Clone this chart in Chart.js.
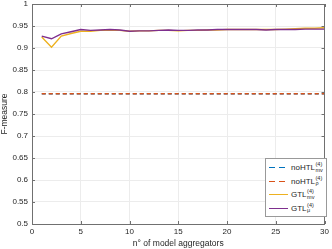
<!DOCTYPE html>
<html>
<head>
<meta charset="utf-8">
<script src="https://cdn.jsdelivr.net/npm/chart.js@4"></script>
<style>
  html, body { margin: 0; padding: 0; background: #fff; }
  #wrap { position: relative; width: 332px; height: 249px; }
  #legend {
    position: absolute; left: 265px; top: 158px; width: 62px; height: 59px;
    border: 1px solid #999; background: #fff; box-sizing: border-box;
    font-family: "Liberation Sans", Arial, sans-serif; font-size: 8px; color: #262626;
    padding: 2px 2px 0 3px;
  }
  .row { display: flex; align-items: center; height: 13.5px; }
  .swatch { width: 19px; height: 1.4px; margin-right: 3px; }
  .lbl { white-space: nowrap; }
  .ss { display: inline-flex; flex-direction: column; vertical-align: middle; font-size: 5.5px; line-height: 5.5px; margin-left: 0.5px; }
</style>
</head>
<body>
<div id="wrap">
  <canvas id="chart" width="332" height="249"></canvas>
  <div id="legend"></div>
</div>
<script>
// datos
const aggregators = [1,2,3,4,5,6,7,8,9,10,11,12,13,14,15,16,17,18,19,20,21,22,23,24,25,26,27,28,29,30];
const noHTLmv  = [0.796,0.796,0.796,0.796,0.796,0.796,0.796,0.796,0.796,0.796,0.796,0.796,0.796,0.796,0.796,0.796,0.796,0.796,0.796,0.796,0.796,0.796,0.796,0.796,0.796,0.796,0.796,0.796,0.796,0.796];
const noHTLrho = [0.796,0.796,0.796,0.796,0.796,0.796,0.796,0.796,0.796,0.796,0.796,0.796,0.796,0.796,0.796,0.796,0.796,0.796,0.796,0.796,0.796,0.796,0.796,0.796,0.796,0.796,0.796,0.796,0.796,0.796];
const GTLmv = [0.925,0.902,0.927,0.933,0.938,0.938,0.940,0.941,0.940,0.938,0.939,0.939,0.940,0.940,0.939,0.940,0.940,0.941,0.941,0.942,0.942,0.942,0.942,0.942,0.942,0.943,0.944,0.945,0.945,0.946];
const GTLmu = [0.927,0.921,0.932,0.937,0.942,0.940,0.941,0.942,0.941,0.938,0.939,0.939,0.940,0.941,0.940,0.940,0.941,0.941,0.942,0.942,0.942,0.942,0.942,0.941,0.942,0.942,0.942,0.943,0.943,0.943];
const xTicks = [0,5,10,15,20,25,30];
const yTicks = [0.5,0.55,0.6,0.65,0.7,0.75,0.8,0.85,0.9,0.95,1];

// order: el menor se dibuja encima
const series = [
    { name: "noHTL", sub: "mv", data: noHTLmv, color: "#0072BD", dash: [4, 3], order: 4 },
    { name: "noHTL", sub: "\u03c1", data: noHTLrho, color: "#D95319", dash: [4, 3], order: 3 },
    { name: "GTL", sub: "mv", data: GTLmv, color: "#EDB120", dash: [], order: 2 },
    { name: "GTL", sub: "\u03bc", data: GTLmu, color: "#7E2F8E", dash: [], order: 1 }
];

const FONT = "'Liberation Sans', Arial, sans-serif";
const AXIS = "#707070";

// Caja y marcas hacia dentro, estilo MATLAB
const boxPlugin = {
    id: "box",
    afterDraw(chart) {
        const { ctx, chartArea: a, scales } = chart;
        ctx.save();
        ctx.strokeStyle = AXIS;
        ctx.lineWidth = 1;
        ctx.strokeRect(Math.round(a.left) + 0.5, Math.round(a.top) + 0.5,
            Math.round(a.right - a.left) - 1, Math.round(a.bottom - a.top));
        ctx.beginPath();
        yTicks.forEach(v => {
            const y = Math.round(scales.y.getPixelForValue(v)) + 0.5;
            ctx.moveTo(a.left, y); ctx.lineTo(a.left + 3, y);
            ctx.moveTo(a.right, y); ctx.lineTo(a.right - 3, y);
        });
        xTicks.forEach(v => {
            const x = Math.round(scales.x.getPixelForValue(v)) + 0.5;
            ctx.moveTo(x, a.bottom); ctx.lineTo(x, a.bottom - 3);
            ctx.moveTo(x, a.top); ctx.lineTo(x, a.top + 3);
        });
        ctx.stroke();
        ctx.restore();
    }
};

function createChart() {
    const ctx = document.getElementById("chart").getContext("2d");
    new Chart(ctx, {
        type: "line",
        data: {
            datasets: series.map(s => ({
                label: s.name + " " + s.sub,
                data: aggregators.map((x, i) => ({ x: x, y: s.data[i] })),
                borderColor: s.color,
                borderWidth: 1.4,
                borderDash: s.dash,
                order: s.order,
                pointRadius: 0,
                tension: 0,
                fill: false
            }))
        },
        options: {
            responsive: false,
            animation: false,
            layout: { padding: { top: 4, right: 3, left: 0, bottom: 0 } },
            plugins: { legend: { display: false }, tooltip: { enabled: false } },
            scales: {
                x: {
                    type: "linear", min: 0, max: 30,
                    afterBuildTicks: s => { s.ticks = xTicks.map(v => ({ value: v })); },
                    afterFit: s => { s.height = 25; },
                    grid: { color: "#ececec", drawTicks: false },
                    border: { display: false },
                    ticks: { font: { family: FONT, size: 8 }, color: "#262626", padding: 3, maxRotation: 0 },
                    title: { display: true, text: "n\u00b0 of model aggregators", font: { family: FONT, size: 8.5 }, color: "#262626", padding: { top: 0, bottom: 0 } }
                },
                y: {
                    min: 0.5, max: 1,
                    afterBuildTicks: s => { s.ticks = yTicks.map(v => ({ value: v })); },
                    afterFit: s => { s.width = 32; s.paddingTop = 0; s.paddingBottom = 0; },
                    grid: { color: "#ececec", drawTicks: false },
                    border: { display: false },
                    ticks: {
                        font: { family: FONT, size: 8 }, color: "#262626", padding: 4,
                        callback: v => String(parseFloat(v.toFixed(2)))
                    },
                    title: { display: true, text: "F-measure", font: { family: FONT, size: 8.5 }, color: "#262626", padding: { top: 0, bottom: 0 } }
                }
            }
        },
        plugins: [boxPlugin]
    });
}

// Leyenda con superíndice y subíndice
function buildLegend() {
    const box = document.getElementById("legend");
    series.forEach(s => {
        const row = document.createElement("div");
        row.className = "row";
        const sw = document.createElement("div");
        sw.className = "swatch";
        sw.style.background = s.dash.length
            ? "repeating-linear-gradient(to right, " + s.color + " 0 6px, transparent 6px 10px)"
            : s.color;
        const lbl = document.createElement("span");
        lbl.className = "lbl";
        lbl.innerHTML = s.name + '<span class="ss"><span>(4)</span><span>' + s.sub + '</span></span>';
        row.appendChild(sw);
        row.appendChild(lbl);
        box.appendChild(row);
    });
}

document.addEventListener("DOMContentLoaded", () => {
    createChart();
    buildLegend();
});
</script>
</body>
</html>
